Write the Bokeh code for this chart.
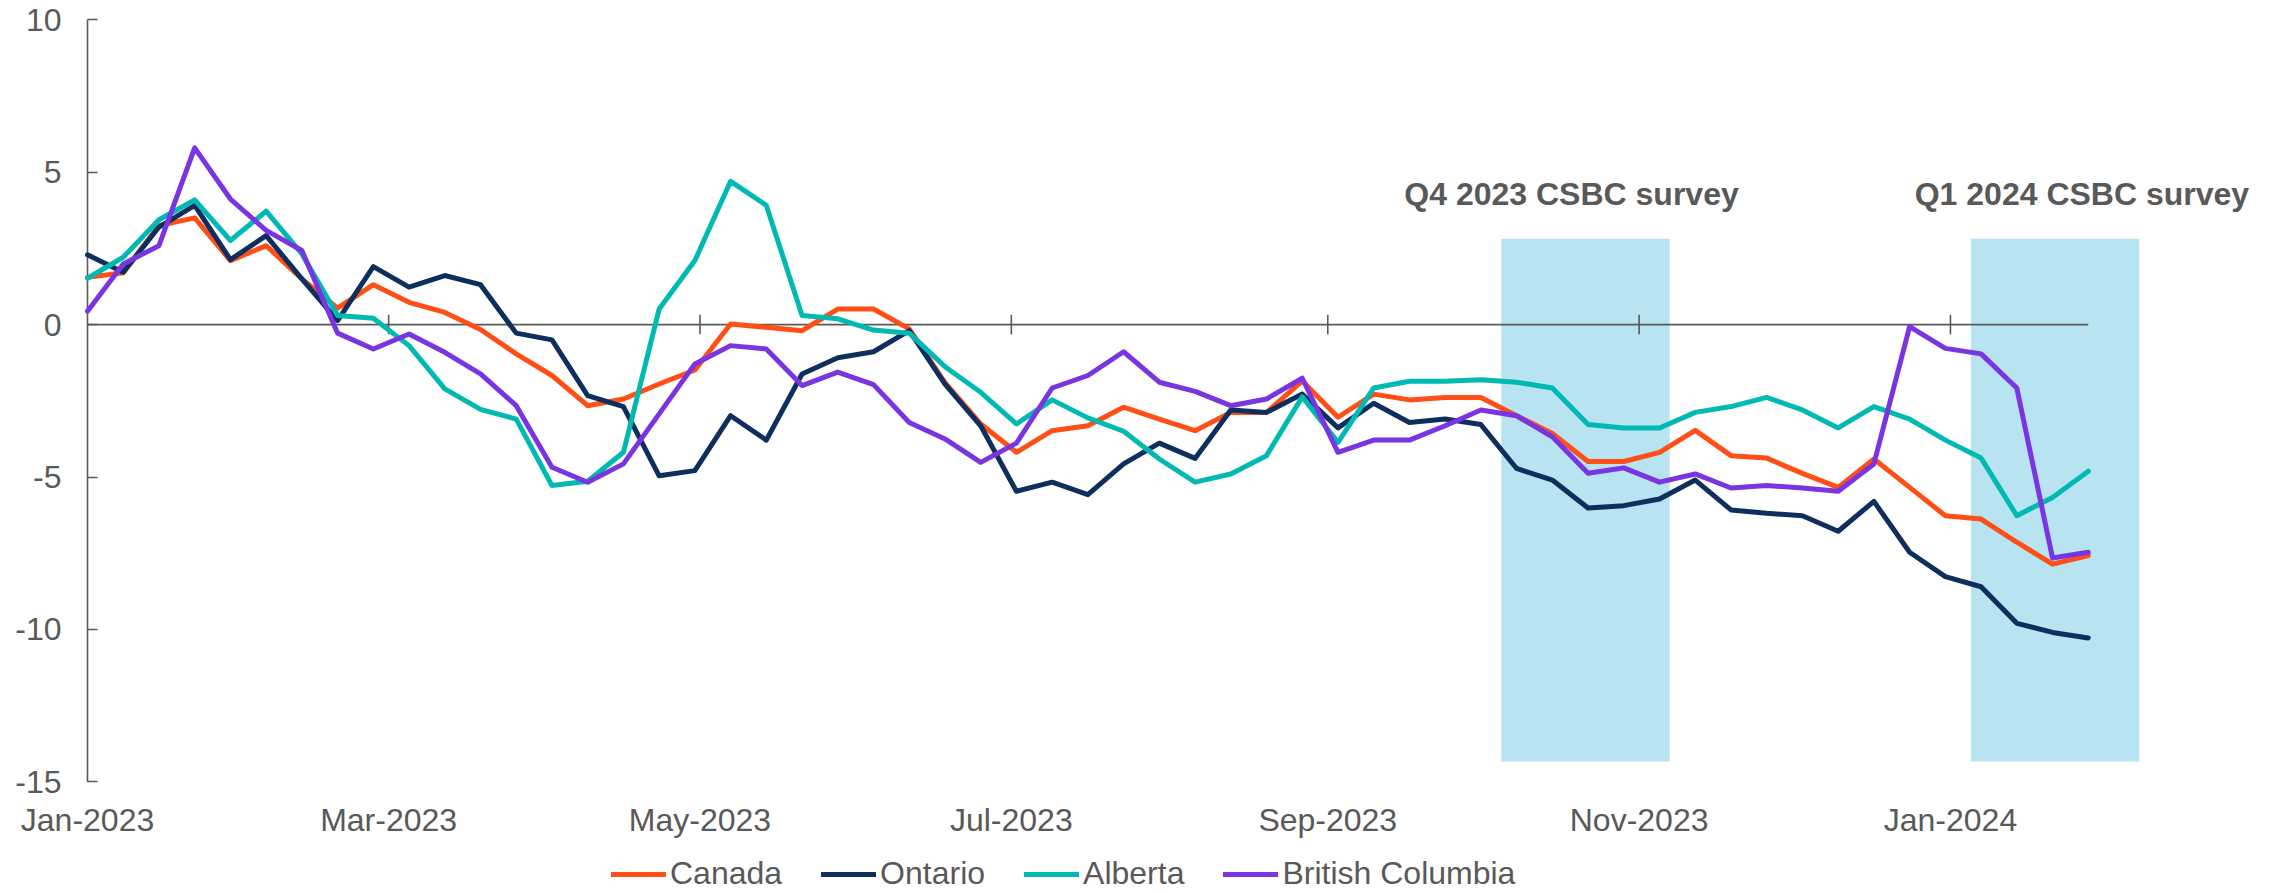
import pandas as pd
from bokeh.plotting import figure
from bokeh.models import (Range1d, FixedTicker, Legend, LegendItem, ColumnDataSource)
from bokeh.core.properties import value
from bokeh.embed import file_html
from bokeh.resources import INLINE

# ---------------- data ----------------
start_date = "2023-01-01"
n_weeks = 57
dates = pd.date_range(start_date, periods=n_weeks, freq="7D")

canada = [1.55, 1.70, 3.25, 3.50, 2.10, 2.59, 1.50, 0.54, 1.31, 0.73,
          0.40, -0.16, -0.96, -1.67, -2.66, -2.44, -1.95, -1.49, 0.02, -0.09,
          -0.20, 0.51, 0.51, -0.14, -1.90, -3.26, -4.19, -3.48, -3.32, -2.71,
          -3.10, -3.48, -2.88, -2.88, -1.85, -3.04, -2.28, -2.47, -2.39, -2.39,
          -2.99, -3.57, -4.49, -4.49, -4.19, -3.47, -4.30, -4.38, -4.88, -5.34,
          -4.41, -5.34, -6.27, -6.38, -7.14, -7.86, -7.58]
ontario = [2.29, 1.72, 3.20, 3.91, 2.13, 2.92, 1.50, 0.13, 1.90, 1.23,
           1.61, 1.31, -0.28, -0.50, -2.33, -2.69, -4.96, -4.79, -2.99, -3.79,
           -1.62, -1.09, -0.89, -0.20, -1.95, -3.32, -5.47, -5.17, -5.58, -4.57,
           -3.89, -4.39, -2.80, -2.88, -2.28, -3.39, -2.58, -3.21, -3.10, -3.28,
           -4.72, -5.10, -6.02, -5.94, -5.72, -5.10, -6.08, -6.19, -6.27, -6.78,
           -5.80, -7.47, -8.27, -8.60, -9.80, -10.10, -10.28]
alberta = [1.52, 2.21, 3.44, 4.09, 2.76, 3.72, 2.32, 0.30, 0.21, -0.69,
           -2.11, -2.78, -3.10, -5.28, -5.14, -4.19, 0.51, 2.10, 4.70, 3.91,
           0.30, 0.19, -0.18, -0.28, -1.38, -2.22, -3.26, -2.47, -3.06, -3.50,
           -4.41, -5.17, -4.90, -4.30, -2.37, -3.86, -2.08, -1.86, -1.86, -1.81,
           -1.89, -2.08, -3.28, -3.39, -3.39, -2.88, -2.69, -2.39, -2.80, -3.39,
           -2.69, -3.10, -3.79, -4.38, -6.27, -5.67, -4.81]
british_columbia = [0.44, 1.99, 2.59, 5.80, 4.12, 3.09, 2.43, -0.28, -0.80, -0.31,
                    -0.91, -1.62, -2.66, -4.68, -5.17, -4.57, -2.93, -1.29, -0.69, -0.80,
                    -2.00, -1.56, -1.97, -3.21, -3.75, -4.52, -3.89, -2.08, -1.67, -0.89,
                    -1.89, -2.19, -2.66, -2.44, -1.76, -4.19, -3.79, -3.79, -3.32, -2.80,
                    -2.99, -3.68, -4.88, -4.70, -5.17, -4.90, -5.36, -5.28, -5.36, -5.47,
                    -4.57, -0.07, -0.78, -0.96, -2.08, -7.66, -7.47]

series_names = ["Canada", "Ontario", "Alberta", "British Columbia"]
series_colors = ["#FF4F17", "#0E2F5E", "#00B9B2", "#7A35E2"]

tick_dates = ["2023-01-01", "2023-03-01", "2023-05-01", "2023-07-01",
              "2023-09-01", "2023-11-01", "2024-01-01"]
tick_labels = ["Jan-2023", "Mar-2023", "May-2023", "Jul-2023",
               "Sep-2023", "Nov-2023", "Jan-2024"]

survey_labels = ["Q4 2023 CSBC survey", "Q1 2024 CSBC survey"]
survey_start = ["2023-10-05", "2024-01-05"]
survey_end = ["2023-11-07", "2024-02-07"]
survey_top = 2.82
survey_bottom = -14.33

y_min, y_max = -15, 10
y_ticks = [-15, -10, -5, 0, 5, 10]
y_tick_labels = ["-15", "-10", "-5", "0", "5", "10"]

# ---------------- helpers ----------------
def ms(d):
    return pd.Timestamp(d).value / 1e6

GREY = "#595959"
FONT = "Liberation Sans"
FS = "32px"
DAY = 86400000.0

W, H = 2280, 893
axis_left_px = 87.0      # where the first date / value axis sits
axis_top_px = 19.3       # where y = 10 sits
px_per_unit = 762.0 / (y_max - y_min)
px_per_day = 5.104
x0 = ms(start_date)
x_lo = x0 - axis_left_px / px_per_day * DAY
x_hi = x_lo + W / px_per_day * DAY
y_hi = y_max + axis_top_px / px_per_unit
y_lo = y_hi - H / px_per_unit

p = figure(width=W, height=H, output_backend="svg", toolbar_location=None,
           x_axis_type="datetime",
           x_range=Range1d(x_lo, x_hi), y_range=Range1d(y_lo, y_hi),
           min_border_left=0, min_border_right=0,
           min_border_top=0, min_border_bottom=0)
p.outline_line_color = None
p.xgrid.visible = False
p.ygrid.visible = False
p.background_fill_color = "white"
p.border_fill_color = "white"

# survey bands
band_src = ColumnDataSource(dict(
    left=[pd.Timestamp(d) for d in survey_start],
    right=[pd.Timestamp(d) for d in survey_end],
))
p.quad(left="left", right="right", bottom=survey_bottom, top=survey_top,
       source=band_src, fill_color="#B8E3F0", line_color=None)

# value axis line from -15 to 10
p.segment(x0=[dates[0]], y0=[y_min], x1=[dates[0]], y1=[y_max],
          line_color=GREY, line_width=1.6)
# zero line (x axis at y=0) from first to last data date
p.segment(x0=[dates[0]], y0=[0], x1=[dates[-1]], y1=[0],
          line_color=GREY, line_width=1.6)
# cross tick marks on the zero line
tick_ts = [pd.Timestamp(d) for d in tick_dates[1:]]
p.segment(x0=tick_ts, y0=[-0.32] * len(tick_ts), x1=tick_ts, y1=[0.32] * len(tick_ts),
          line_color=GREY, line_width=1.6)

# series lines
renderers = []
for name, vals, col in zip(series_names, [canada, ontario, alberta, british_columbia], series_colors):
    src = ColumnDataSource(dict(x=dates, y=vals))
    r = p.line("x", "y", source=src, line_color=col, line_width=5,
               line_join="round", line_cap="round")
    renderers.append(r)

# survey labels
lab_src = ColumnDataSource(dict(
    x=[pd.Timestamp("2023-09-16"), pd.Timestamp("2023-12-25")],
    y=[4.3, 4.3],
    t=survey_labels,
))
p.text(x="x", y="y", text="t", source=lab_src, text_font=value(FONT),
       text_font_size=FS, text_font_style="bold", text_color=GREY,
       text_align="left", text_baseline="middle")

# y axis: ticks and labels, fixed at the first date
ya = p.yaxis[0]
ya.fixed_location = x0
ya.ticker = FixedTicker(ticks=y_ticks)
ya.major_label_overrides = {t: l for t, l in zip(y_ticks, y_tick_labels)}
ya.axis_line_color = None
ya.major_tick_line_color = GREY
ya.major_tick_line_width = 1.6
ya.major_tick_in = 10
ya.major_tick_out = 0
ya.minor_tick_line_color = None
ya.major_label_standoff = 26
ya.major_label_text_font = FONT
ya.major_label_text_font_size = FS
ya.major_label_text_color = GREY

# x axis: labels only, fixed at y=-15 (the bottom of the value axis)
xa = p.xaxis[0]
xa.fixed_location = y_min
xa.ticker = FixedTicker(ticks=[ms(d) for d in tick_dates])
xa.major_label_overrides = {ms(d): l for d, l in zip(tick_dates, tick_labels)}
xa.axis_line_color = None
xa.major_tick_line_color = None
xa.minor_tick_line_color = None
xa.major_tick_in = 0
xa.major_tick_out = 0
xa.major_label_standoff = 20
xa.major_label_text_font = FONT
xa.major_label_text_font_size = FS
xa.major_label_text_color = GREY

# legend (inside the frame, below the x labels)
legend = Legend(items=[LegendItem(label=n, renderers=[r]) for n, r in zip(series_names, renderers)],
                orientation="horizontal", location=(611, 1),
                label_text_font=FONT, label_text_font_size=FS, label_text_color=GREY,
                glyph_width=55, glyph_height=20, label_standoff=4, spacing=39,
                padding=0, margin=0, border_line_color=None, background_fill_alpha=0)
p.add_layout(legend, "center")

open("out.html", "w").write(file_html(p, INLINE))
